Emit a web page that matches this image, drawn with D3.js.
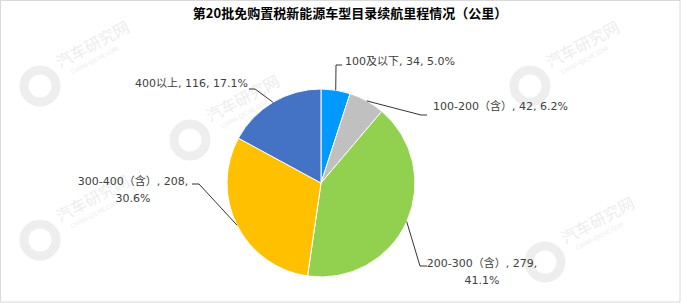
<!DOCTYPE html>
<html>
<head>
    <script src="https://cdnjs.cloudflare.com/ajax/libs/d3/7.8.5/d3.min.js"></script>
    <style>
        body { margin: 0; background: #fff; }
        .title { font-family: "Noto Sans CJK SC", sans-serif; font-size: 13px; font-weight: bold; fill: #000; }
        .label { font-family: "DejaVu Sans", "Noto Sans CJK SC", sans-serif; font-size: 11px; fill: #404040; }
        .leader { fill: none; stroke: #000; stroke-width: 0.8px; }
        .wm { font-family: "Noto Sans CJK SC", sans-serif; fill: #ededed; }
    </style>
</head>
<body>
    <div id="chart"></div>
    <script>
        // Data
        const categories = ["100及以下", "100-200（含）", "200-300（含）", "300-400（含）", "400以上"];
        const values = [34, 42, 279, 208, 116];
        const percents = ["5.0%", "6.2%", "41.1%", "30.6%", "17.1%"];
        const colors = ["#0099ff", "#c0c0c0", "#92d050", "#ffc000", "#4472c4"];

        // Label layout (position of each label and the bend of its leader line)
        const labelLayout = [
            { bend: [336, 65], end: [342, 65], x: 345, y: 61, anchor: "start", lines: 1 },
            { bend: [421, 115], end: [427, 115], x: 433, y: 106, anchor: "start", lines: 1 },
            { bend: [420, 266], end: [427, 266], x: 482, y: 263, anchor: "middle", lines: 2 },
            { bend: [199, 184], end: [192, 184], x: 133, y: 181, anchor: "middle", lines: 2 },
            { bend: [255, 89], end: [249, 89], x: 248, y: 83, anchor: "end", lines: 1 }
        ];

        const width = 681;
        const height = 303;
        const cx = 321, cy = 183, radius = 94;

        const svg = d3.select("#chart")
            .append("svg")
            .attr("width", width)
            .attr("height", height);

        // Border
        svg.append("rect")
            .attr("x", 0.5).attr("y", 0.5)
            .attr("width", width - 1.5).attr("height", height - 1.5)
            .attr("fill", "#fff")
            .attr("stroke", "#d9d9d9");

        // Watermarks
        const marks = [[40, 86], [530, 86], [190, 140], [40, 240], [545, 262]];
        const wm = svg.append("g");
        marks.forEach(([x, y]) => {
            const g = wm.append("g").attr("transform", `translate(${x},${y})`);
            g.append("circle").attr("r", 16).attr("fill", "none").attr("stroke", "#eeeeee").attr("stroke-width", 9);
            g.append("text").attr("class", "wm").attr("x", 26).attr("y", -6)
                .attr("transform", "rotate(-28)").style("font-size", "16px").text("汽车研究网");
            g.append("text").attr("class", "wm").attr("x", 34).attr("y", 5)
                .attr("transform", "rotate(-28)").style("font-size", "6px").text("CHINA-QICHE.COM");
        });

        // Title
        svg.append("text")
            .attr("class", "title")
            .attr("x", 350)
            .attr("y", 18)
            .attr("text-anchor", "middle")
            .text("第20批免购置税新能源车型目录续航里程情况（公里）");

        const pie = d3.pie().sort(null).value(d => d);
        const arcs = pie(values);
        const arc = d3.arc().innerRadius(0).outerRadius(radius);

        const g = svg.append("g").attr("transform", `translate(${cx},${cy})`);

        g.selectAll("path")
            .data(arcs)
            .join("path")
            .attr("d", arc)
            .attr("fill", (d, i) => colors[i])
            .attr("stroke", "#fff")
            .attr("stroke-width", 1);

        // Leader lines, starting on the outer edge at each slice's middle angle
        arcs.forEach((d, i) => {
            const a = (d.startAngle + d.endAngle) / 2;
            const sx = cx + radius * Math.sin(a);
            const sy = cy - radius * Math.cos(a);
            const L = labelLayout[i];
            svg.append("polyline")
                .attr("class", "leader")
                .attr("points", [[sx, sy], L.bend, L.end].map(p => p.join(",")).join(" "));
        });

        // Labels
        arcs.forEach((d, i) => {
            const L = labelLayout[i];
            const t = svg.append("text")
                .attr("class", "label")
                .attr("text-anchor", L.anchor)
                .attr("dominant-baseline", "central");
            if (L.lines === 1) {
                t.append("tspan").attr("x", L.x).attr("y", L.y)
                    .text(`${categories[i]}, ${values[i]}, ${percents[i]}`);
            } else {
                t.append("tspan").attr("x", L.x).attr("y", L.y)
                    .text(`${categories[i]}, ${values[i]},`);
                t.append("tspan").attr("x", L.x).attr("y", L.y + 17)
                    .text(percents[i]);
            }
        });
    </script>
</body>
</html>
